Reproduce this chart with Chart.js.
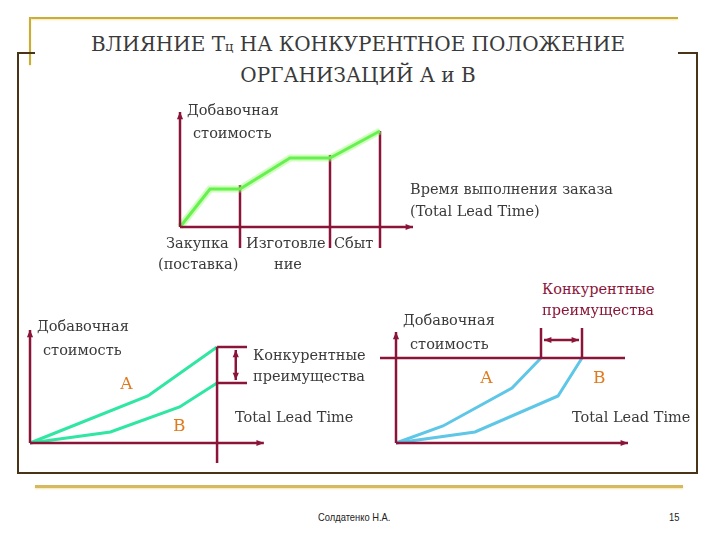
<!DOCTYPE html>
<html>
<head>
<meta charset="utf-8">
<script src="https://cdn.jsdelivr.net/npm/chart.js@4.4.1/dist/chart.umd.min.js"></script>
<style>
  body { margin: 0; background: #fff; width: 720px; height: 540px; position: relative; overflow: hidden; color: #3a3a3a; }
  .t { position: absolute; font-family: 'DejaVu Serif'; font-size: 14.5px; line-height: 20px; white-space: nowrap; }
  .ab { position: absolute; font-family: 'DejaVu Serif'; font-size: 17px; line-height: 22px; color: #e07a1e; white-space: nowrap; }
  .ln { position: absolute; }
  .gold { background: #c9ad3a; box-shadow: 0 1px 2px #f3e7b0; }
  .dark { background: #4a3418; }
  .foot { position: absolute; font-family: 'Liberation Sans'; font-size: 11px;
          line-height: 14px; color: #222; white-space: nowrap; transform-origin: 0 0; transform: scaleX(0.85); }
  canvas { position: absolute; }
</style>
</head>
<body>

<!-- slide frame -->
<div class="ln gold" style="left:30px;top:17px;width:648px;height:2px"></div>
<div class="ln gold" style="left:29px;top:17px;width:2px;height:48px"></div>
<div class="ln dark" style="left:17px;top:52px;width:18px;height:2px"></div>
<div class="ln dark" style="left:17px;top:52px;width:2px;height:422px"></div>
<div class="ln dark" style="left:17px;top:472px;width:681px;height:2px"></div>
<div class="ln dark" style="left:696px;top:52px;width:2px;height:422px"></div>
<div class="ln dark" style="left:678px;top:52px;width:20px;height:2px"></div>
<div class="ln gold" style="left:35px;top:485px;width:648px;height:3px;background:#d6b85e"></div>

<div class="t" style="left:0;width:716px;top:30px;text-align:center;font-size:20px;line-height:28px">ВЛИЯНИЕ Т<span style="font-size:13px">ц</span> НА КОНКУРЕНТНОЕ ПОЛОЖЕНИЕ<br>ОРГАНИЗАЦИЙ А и В</div>

<canvas id="chartStages" width="250" height="160" style="left:170px;top:100px"></canvas>
<canvas id="chartValue" width="250" height="150" style="left:20px;top:320px"></canvas>
<canvas id="chartTime" width="260" height="150" style="left:375px;top:320px"></canvas>

<!-- top diagram labels -->
<div class="t" style="left:187px;top:100px">Добавочная</div>
<div class="t" style="left:193px;top:123px">стоимость</div>
<div class="t" style="left:410px;top:179px">Время выполнения заказа</div>
<div class="t" style="left:410px;top:201px">(Total Lead Time)</div>
<div class="t" style="left:166px;top:233px">Закупка</div>
<div class="t" style="left:158px;top:254px">(поставка)</div>
<div class="t" style="left:246px;top:233px">Изготовле</div>
<div class="t" style="left:274px;top:254px">ние</div>
<div class="t" style="left:334px;top:233px">Сбыт</div>

<!-- bottom left labels -->
<div class="t" style="left:37px;top:316px">Добавочная</div>
<div class="t" style="left:43px;top:340px">стоимость</div>
<div class="t" style="left:253px;top:345px">Конкурентные</div>
<div class="t" style="left:253px;top:366px">преимущества</div>
<div class="t" style="left:235px;top:407px">Total Lead Time</div>
<div class="ab" style="left:120px;top:372px">А</div>
<div class="ab" style="left:173px;top:414px">В</div>

<!-- bottom right labels -->
<div class="t" style="left:542px;top:279px;color:#8a1538">Конкурентные</div>
<div class="t" style="left:542px;top:300px;color:#8a1538">преимущества</div>
<div class="t" style="left:403px;top:310px">Добавочная</div>
<div class="t" style="left:410px;top:334px">стоимость</div>
<div class="t" style="left:572px;top:407px">Total Lead Time</div>
<div class="ab" style="left:480px;top:366px">А</div>
<div class="ab" style="left:593px;top:366px">В</div>

<div class="foot" style="left:318px;top:510px">Солдатенко Н.А.</div>
<div class="foot" style="left:669px;top:510px">15</div>

<script>
// top diagram: value added along the lead time stages
const leadTime1 = [0, 1.5, 3, 5.5, 7.5, 10];
const valueAdded1 = [0, 3.8, 3.8, 6.9, 6.9, 9.6];
const stageEnds1 = [3, 7.5, 10];
const stageTops1 = [4.2, 7.2, 9.6];

// bottom left: same lead time, different value added
const timeA2 = [0, 6.3, 10];
const valueA2 = [0, 4.7, 9.6];
const timeB2 = [0, 4.3, 8, 10];
const valueB2 = [0, 1.1, 3.6, 6.0];

// bottom right: same value added, different lead time
const timeA3 = [0, 2.35, 5.8, 7.25];
const valueA3 = [0, 1.7, 5.5, 8.5];
const timeB3 = [0, 3.95, 8.1, 9.3];
const valueB3 = [0, 1.1, 4.7, 8.5];
const targetValue3 = 8.5;

const AXIS = '#8a1538';

function pts(xs, ys) {
    return xs.map((x, i) => ({ x: x, y: ys[i] }));
}

function segment(x1, y1, x2, y2) {
    return {
        data: [{ x: x1, y: y1 }, { x: x2, y: y2 }],
        borderColor: AXIS, borderWidth: 2.5, pointRadius: 0, clip: false
    };
}

// draws arrows (axes and the double arrows) in data units
const arrowPlugin = {
    id: 'arrows',
    afterDatasetsDraw(chart, args, opts) {
        const ctx = chart.ctx;
        const xs = chart.scales.x, ys = chart.scales.y;
        (opts.list || []).forEach(a => {
            const x1 = xs.getPixelForValue(a.from[0]), y1 = ys.getPixelForValue(a.from[1]);
            const x2 = xs.getPixelForValue(a.to[0]), y2 = ys.getPixelForValue(a.to[1]);
            ctx.save();
            ctx.strokeStyle = AXIS;
            ctx.fillStyle = AXIS;
            ctx.lineWidth = a.width || 2.5;
            ctx.beginPath();
            ctx.moveTo(x1, y1);
            ctx.lineTo(x2, y2);
            ctx.stroke();
            const head = (px, py, ang) => {
                ctx.beginPath();
                ctx.moveTo(px, py);
                ctx.lineTo(px - 8 * Math.cos(ang - 0.4), py - 8 * Math.sin(ang - 0.4));
                ctx.lineTo(px - 8 * Math.cos(ang + 0.4), py - 8 * Math.sin(ang + 0.4));
                ctx.closePath();
                ctx.fill();
            };
            const ang = Math.atan2(y2 - y1, x2 - x1);
            head(x2, y2, ang);
            if (a.both) head(x1, y1, ang + Math.PI);
            ctx.restore();
        });
    }
};

function makeChart(id, datasets, xr, yr, arrows) {
    return new Chart(document.getElementById(id), {
        type: 'line',
        data: { datasets: datasets },
        options: {
            responsive: false,
            animation: false,
            events: [],
            layout: { padding: 0 },
            scales: {
                x: { type: 'linear', display: false, min: xr[0], max: xr[1] },
                y: { type: 'linear', display: false, min: yr[0], max: yr[1] }
            },
            plugins: {
                legend: { display: false },
                tooltip: { enabled: false },
                arrows: { list: arrows }
            }
        },
        plugins: [arrowPlugin]
    });
}

// top chart
const stageLines = stageEnds1.map((x, i) => segment(x, -2.1, x, stageTops1[i]));
makeChart('chartStages', [
    { data: pts(leadTime1, valueAdded1), borderColor: 'rgba(150,255,110,0.45)', borderWidth: 7, pointRadius: 0, clip: false },
    { data: pts(leadTime1, valueAdded1), borderColor: '#3ee63a', borderWidth: 3, pointRadius: 0, clip: false }
].concat(stageLines), [-0.5, 12], [-3.3, 12.7], [
    { from: [0, 0], to: [11.65, 0] },
    { from: [0, 0], to: [0, 11.5] }
]);

// bottom left chart
makeChart('chartValue', [
    segment(10, -2, 10, valueA2[valueA2.length - 1]),
    segment(10, valueA2[valueA2.length - 1], 11.6, valueA2[valueA2.length - 1]),
    segment(10, valueB2[valueB2.length - 1], 11.6, valueB2[valueB2.length - 1]),
    { data: pts(timeA2, valueA2), borderColor: '#2fe6a2', borderWidth: 3, pointRadius: 0, clip: false },
    { data: pts(timeB2, valueB2), borderColor: '#2fe6a2', borderWidth: 3, pointRadius: 0, clip: false }
], [-0.535, 12.83], [-2.7, 12.3], [
    { from: [0, 0], to: [12.5, 0] },
    { from: [0, 0], to: [0, 11.3] },
    { from: [11.0, 6.3], to: [11.0, 9.3], both: true, width: 2.5 }
]);

// bottom right chart
makeChart('chartTime', [
    segment(-0.8, targetValue3, 11.45, targetValue3),
    segment(timeA3[timeA3.length - 1], targetValue3, timeA3[timeA3.length - 1], 11.5),
    segment(timeB3[timeB3.length - 1], targetValue3, timeB3[timeB3.length - 1], 11.5),
    { data: pts(timeA3, valueA3), borderColor: '#5ec6e6', borderWidth: 3, pointRadius: 0, clip: false },
    { data: pts(timeB3, valueB3), borderColor: '#5ec6e6', borderWidth: 3, pointRadius: 0, clip: false }
], [-1.05, 11.95], [-2.7, 12.3], [
    { from: [0, 0], to: [11.6, 0] },
    { from: [0, 0], to: [0, 11.1] },
    { from: [7.4, 10.3], to: [9.15, 10.3], both: true, width: 2.5 }
]);
</script>
</body>
</html>
